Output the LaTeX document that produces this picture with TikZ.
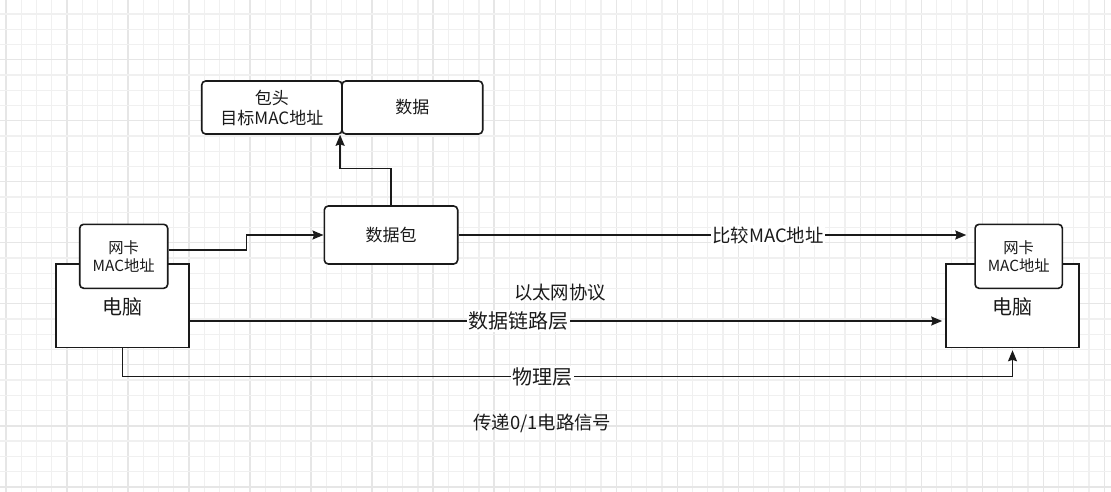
\documentclass[tikz,border=0pt]{standalone}
\usepackage{fontspec}
\setmainfont{Noto Sans CJK SC}
\usetikzlibrary{arrows.meta,calc}
\definecolor{gminor}{HTML}{F0F0F0}
\definecolor{gmajor}{HTML}{E6E6E6}
\definecolor{ink}{HTML}{1A1A1A}
\begin{document}
\begin{tikzpicture}[x=1pt,y=-1pt,
  box/.style={draw=ink,line width=1.6pt,fill=white,inner sep=0pt,align=center,text=ink},
  rbox/.style={box,rounded corners=4pt},
  arr/.style={draw=ink,line width=1.6pt,-{Stealth[length=11pt,width=9pt,inset=1.5pt]}},
  lbl/.style={fill=white,inner sep=1.5pt,text=ink},
  txt/.style={inner sep=0pt,text=ink},
  fA/.style={font=\fontsize{17pt}{20pt}\selectfont},
  fB/.style={font=\fontsize{15.3pt}{18pt}\selectfont},
  fC/.style={font=\fontsize{18.4pt}{22pt}\selectfont},
  fD/.style={font=\fontsize{20pt}{24pt}\selectfont}]
\useasboundingbox (0,0) rectangle (1111,492);
\fill[white] (0,0) rectangle (1111,492);
% grid
\foreach \k in {0,...,72}{
  \pgfmathsetmacro{\xx}{6+15.254*\k}
  \pgfmathtruncatemacro{\m}{mod(\k,4)}
  \ifnum\m=0 \draw[gmajor,line width=1.3pt] (\xx,0) -- (\xx,492);
  \else \draw[gminor,line width=1.3pt] (\xx,0) -- (\xx,492); \fi
}
\foreach \k in {0,...,31}{
  \pgfmathsetmacro{\yy}{14+15.254*\k}
  \pgfmathtruncatemacro{\m}{mod(\k,4)}
  \ifnum\m=3 \draw[gmajor,line width=1.3pt] (0,\yy) -- (1111,\yy);
  \else \draw[gminor,line width=1.3pt] (0,\yy) -- (1111,\yy); \fi
}
% nodes
\node[box,fD,minimum width=133pt,minimum height=83.5pt] (lpc) at (122.5,305.75) {\raisebox{-20pt}{电脑}};
\node[rbox,fB,minimum width=88pt,minimum height=64pt] (lnic) at (123.7,256.3) {网卡\\MAC地址};
\node[box,fD,minimum width=133pt,minimum height=83.5pt] (rpc) at (1012.5,305.75) {\raisebox{-20pt}{电脑}};
\node[rbox,fB,minimum width=87.3pt,minimum height=64pt] (rnic) at (1018.7,256.3) {网卡\\MAC地址};
\node[rbox,fA,minimum width=133.4pt,minimum height=58pt] (pkt) at (391,235) {数据包};
\node[rbox,fA,minimum width=140.3pt,minimum height=53pt] (hdr) at (271.85,107.5) {包头\\目标MAC地址};
\node[rbox,fA,minimum width=140.7pt,minimum height=53pt] (dat) at (412.35,107.5) {数据};
% connectors
\draw[arr] ([yshift=6.3pt]lnic.east) -- ++(78,0) |- (pkt.west);
\draw[arr] (pkt.north) -- ++(0,-36.7) -| ([xshift=-2.7pt]hdr.south east);
\draw[arr,shorten >=8pt] (pkt.east) -- node[lbl,fC,pos=0.6] (lcmp) {比较MAC地址} (rnic.west |- pkt.east);
\coordinate (l1) at ([yshift=-15.25pt]lpc.east);
\draw[arr,shorten >=3pt] (l1) -- node[lbl,fD,pos=0.435] (llink) {数据链路层} (rpc.west |- l1);
\path (lpc.south) ++(0,28.2) coordinate (p1);
\coordinate (p2) at (p1 -| rpc.south);
\draw[arr,shorten >=2pt] (lpc.south) -- (p1) -- node[lbl,fD,pos=0.472] (lphy) {物理层} (p2) -- (rpc.south);
% free texts
\node[txt,fC] (eth) at (560,292.5) {以太网协议};
\node[txt,fC] (sig) at (542.3,423) {传递0/1电路信号};
\end{tikzpicture}
\end{document}
